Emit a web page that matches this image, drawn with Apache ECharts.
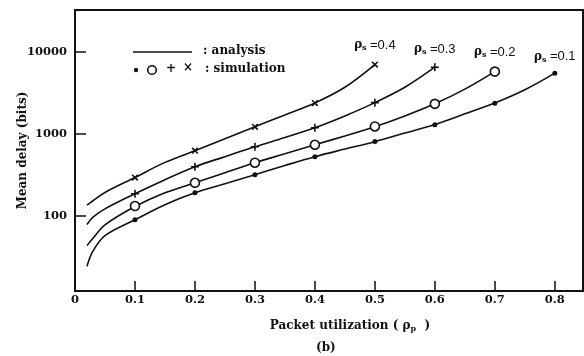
<!DOCTYPE html>
<html>
<head>
<meta charset="utf-8">
<script src="https://cdn.jsdelivr.net/npm/echarts@6/dist/echarts.min.js"></script>
<style>
html, body { margin: 0; padding: 0; background: #fff; }
#chart { width: 584px; height: 356px; }
</style>
</head>
<body>
<div id="chart"></div>
<script>
/* 数据: 曲线 (analysis) 与仿真点 (simulation) */
var yTicks = [100, 1000, 10000];
var rhoS = ['0.4', '0.3', '0.2', '0.1'];

var anaX04 = [0.02, 0.03, 0.05, 0.1, 0.15, 0.2, 0.25, 0.3, 0.35, 0.4, 0.45, 0.5];
var anaY04 = [134, 152, 192, 292, 447, 621, 870, 1216, 1700, 2380, 3700, 7000];
var anaX03 = [0.02, 0.03, 0.05, 0.1, 0.15, 0.2, 0.25, 0.3, 0.35, 0.4, 0.45, 0.5, 0.55, 0.6];
var anaY03 = [78, 96, 121, 185, 275, 396, 525, 694, 900, 1184, 1650, 2400, 3700, 6500];
var anaX02 = [0.02, 0.03, 0.05, 0.1, 0.15, 0.2, 0.25, 0.3, 0.35, 0.4, 0.45, 0.5, 0.55, 0.6, 0.65, 0.7];
var anaY02 = [43, 53, 77, 129, 190, 252, 335, 443, 570, 734, 940, 1220, 1650, 2320, 3510, 5750];
var anaX01 = [0.02, 0.03, 0.05, 0.1, 0.15, 0.2, 0.25, 0.3, 0.35, 0.4, 0.45, 0.5, 0.55, 0.6, 0.65, 0.7, 0.75, 0.8];
var anaY01 = [24, 37, 57, 89, 136, 190, 245, 316, 410, 525, 650, 800, 1020, 1300, 1750, 2370, 3440, 5500];

var simX04 = [0.1, 0.2, 0.3, 0.4, 0.5];
var simY04 = [292, 621, 1216, 2370, 7000];
var simX03 = [0.1, 0.2, 0.3, 0.4, 0.5, 0.6];
var simY03 = [185, 396, 694, 1184, 2400, 6500];
var simX02 = [0.1, 0.2, 0.3, 0.4, 0.5, 0.6, 0.7];
var simY02 = [131, 252, 443, 734, 1228, 2320, 5750];
var simX01 = [0.1, 0.2, 0.3, 0.4, 0.5, 0.6, 0.7, 0.8];
var simY01 = [89, 190, 316, 525, 806, 1290, 2365, 5500];

var SERIF = '"DejaVu Serif", "Liberation Serif", serif';
var PLUS = 'path://M4,0H6V4H10V6H6V10H4V6H0V4H4Z';

function pairs(xs, ys) {
	var out = [];
	for (var i = 0; i < xs.length; i++) {
		out.push([xs[i], ys[i]]);
	}
	return out;
}

function anaSeries(xs, ys) {
	return {
		type: 'line',
		data: pairs(xs, ys),
		smooth: 0.35,
		showSymbol: false,
		silent: true,
		lineStyle: { color: '#111', width: 1.6 },
		z: 2
	};
}

function simSeries(xs, ys, symbol, size, rotate, rs, hollow) {
	var d = pairs(xs, ys);
	var last = d.length - 1;
	d[last] = {
		value: d[last],
		label: {
			show: true,
			position: 'top',
			distance: 7,
			formatter: '{r|ρ}{s|s} {v|=' + rs + '}',
			rich: {
				r: { fontFamily: SERIF, fontWeight: 'bold', fontSize: 12, color: '#111' },
				s: { fontFamily: SERIF, fontWeight: 'bold', fontSize: 8, color: '#111', verticalAlign: 'bottom', padding: [6, 0, 0, 0] },
				v: { fontFamily: '"Liberation Sans", sans-serif', fontSize: 13, color: '#111' }
			}
		}
	};
	return {
		type: 'scatter',
		data: d,
		symbol: symbol,
		symbolSize: size,
		symbolRotate: rotate,
		itemStyle: hollow
			? { color: '#fff', borderColor: '#111', borderWidth: 1.6, opacity: 1 }
			: { color: '#111', opacity: 1 },
		z: 3
	};
}

var chart = echarts.init(document.getElementById('chart'), null, { renderer: 'canvas' });

var option = {
	backgroundColor: '#fff',
	animation: false,
	grid: {
		left: 75, top: 10, right: 1, bottom: 65,
		outerBoundsMode: 'none',
		show: true, borderColor: '#111', borderWidth: 2
	},
	xAxis: {
		type: 'value',
		min: 0, max: 0.847, interval: 0.1,
		name: 'Packet utilization ( {r|ρ}{p|p}  )',
		nameLocation: 'middle',
		nameGap: 27,
		nameMoveOverlap: false,
		nameTextStyle: {
			fontFamily: SERIF, fontWeight: 'bold', fontSize: 12, color: '#111',
			padding: [0, 0, 0, 42],
			rich: {
				r: { fontFamily: SERIF, fontWeight: 'bold', fontSize: 12, color: '#111' },
				p: { fontFamily: SERIF, fontWeight: 'bold', fontSize: 8, color: '#111', verticalAlign: 'bottom', padding: [7, 0, 0, 0] }
			}
		},
		axisLine: { lineStyle: { color: '#111', width: 2 } },
		axisTick: { inside: true, length: 10, lineStyle: { color: '#111', width: 1.5 } },
		axisLabel: {
			margin: 3,
			showMaxLabel: false,
			fontFamily: SERIF, fontWeight: 'bold', fontSize: 11.5, color: '#111',
			formatter: function (v) { return v === 0 ? '0' : v.toFixed(1); }
		},
		splitLine: { show: false }
	},
	yAxis: {
		type: 'log',
		min: 12, max: 32500,
		name: 'Mean delay (bits)',
		nameLocation: 'middle',
		nameGap: 46,
		nameMoveOverlap: false,
		nameTextStyle: { fontFamily: SERIF, fontWeight: 'bold', fontSize: 12, color: '#111' },
		axisLine: { lineStyle: { color: '#111', width: 2 } },
		axisTick: { inside: true, length: 11, customValues: yTicks, lineStyle: { color: '#111', width: 1.5 } },
		axisLabel: {
			margin: 8,
			customValues: yTicks,
			fontFamily: SERIF, fontWeight: 'bold', fontSize: 11.5, color: '#111',
			formatter: function (v) { return String(Math.round(v)); }
		},
		splitLine: { show: false },
		minorTick: { show: false }
	},
	graphic: [
		{ type: 'line', shape: { x1: 133, y1: 52, x2: 192, y2: 52 }, style: { stroke: '#111', lineWidth: 1.6 } },
		{ type: 'text', left: 203, top: 45, style: { text: ': analysis', font: 'bold 12px ' + SERIF, fill: '#111' } },
		{ type: 'circle', shape: { cx: 136, cy: 70, r: 2.2 }, style: { fill: '#111' } },
		{ type: 'circle', shape: { cx: 152, cy: 70, r: 4.3 }, style: { fill: '#fff', stroke: '#111', lineWidth: 1.6 } },
		{ type: 'text', left: 166, top: 63, style: { text: '+', font: 'bold 12px ' + SERIF, fill: '#111' } },
		{ type: 'text', left: 183, top: 62, style: { text: '×', font: 'bold 12px ' + SERIF, fill: '#111' } },
		{ type: 'text', left: 205, top: 63, style: { text: ': simulation', font: 'bold 12px ' + SERIF, fill: '#111' } },
		{ type: 'text', left: 316, top: 342, style: { text: '(b)', font: 'bold 12px ' + SERIF, fill: '#111' } }
	],
	series: [
		anaSeries(anaX04, anaY04),
		anaSeries(anaX03, anaY03),
		anaSeries(anaX02, anaY02),
		anaSeries(anaX01, anaY01),
		simSeries(simX04, simY04, PLUS, 8, 45, rhoS[0], false),
		simSeries(simX03, simY03, PLUS, 8, 0, rhoS[1], false),
		simSeries(simX02, simY02, 'circle', 9, 0, rhoS[2], true),
		simSeries(simX01, simY01, 'circle', 5, 0, rhoS[3], false)
	]
};

chart.setOption(option);
</script>
</body>
</html>
